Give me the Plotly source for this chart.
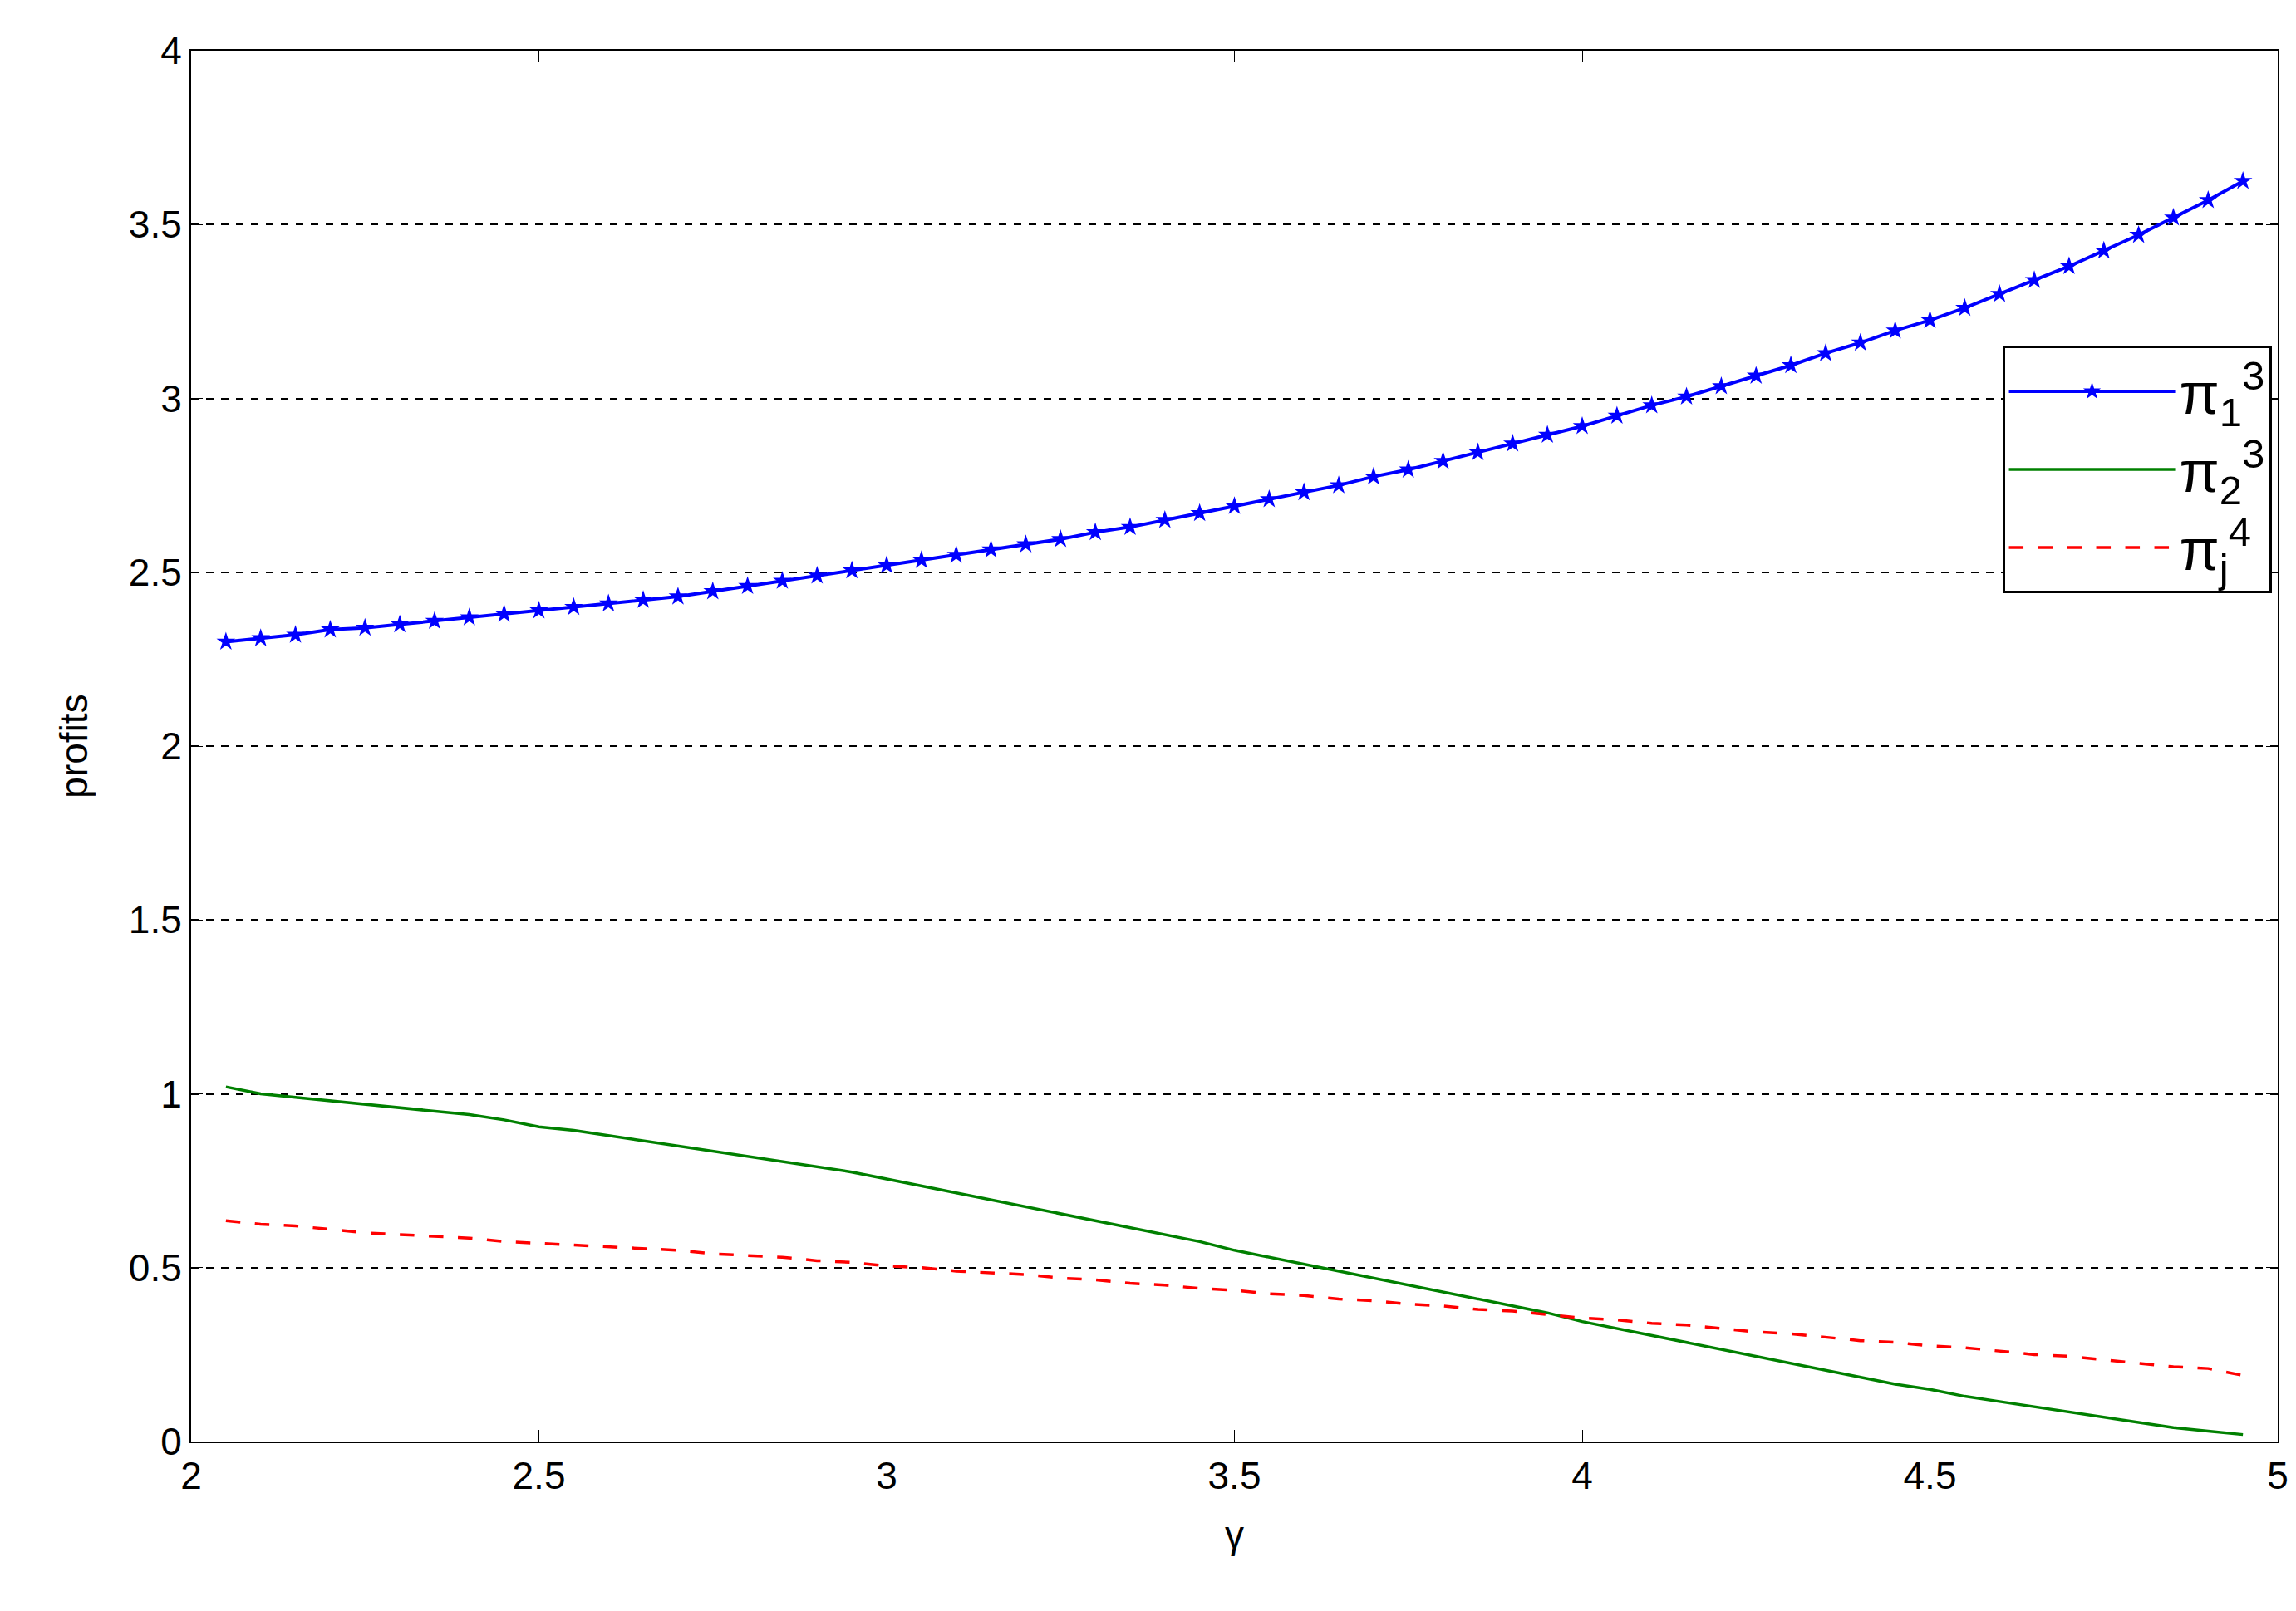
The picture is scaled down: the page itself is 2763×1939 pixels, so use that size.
import plotly.graph_objects as go

gamma = [round(2.05 + 0.05*i, 2) for i in range(59)]
pi13 = [2.30,2.31,2.32,2.335,2.34,2.35,2.36,2.37,2.38,2.39,2.40,2.41,2.42,2.43,2.445,2.46,2.475,2.49,2.505,2.52,
        2.535,2.55,2.565,2.58,2.595,2.615,2.63,2.65,2.67,2.69,2.71,2.73,2.75,2.775,2.795,2.82,2.845,2.87,2.895,2.92,
        2.95,2.98,3.005,3.035,3.065,3.095,3.13,3.16,3.195,3.225,3.26,3.30,3.34,3.38,3.425,3.47,3.52,3.57,3.625]
pi23 = [1.02,1.00,0.99,0.98,0.97,0.96,0.95,0.94,0.925,0.905,0.895,0.88,0.865,0.85,0.835,0.82,0.805,0.79,0.775,0.755,
        0.735,0.715,0.695,0.675,0.655,0.635,0.615,0.595,0.575,0.55,0.53,0.51,0.49,0.47,0.45,0.43,0.41,0.39,0.37,0.345,
        0.325,0.305,0.285,0.265,0.245,0.225,0.205,0.185,0.165,0.15,0.13,0.115,0.10,0.085,0.07,0.055,0.04,0.03,0.02]
pij4 = [0.635,0.625,0.62,0.61,0.60,0.595,0.59,0.585,0.575,0.57,0.565,0.56,0.555,0.55,0.54,0.535,0.53,0.52,0.515,0.505,
        0.50,0.49,0.485,0.48,0.47,0.465,0.455,0.45,0.44,0.435,0.425,0.42,0.41,0.405,0.395,0.39,0.38,0.375,0.365,0.355,
        0.35,0.34,0.335,0.325,0.315,0.31,0.30,0.29,0.285,0.275,0.27,0.26,0.25,0.245,0.235,0.225,0.215,0.21,0.19]

fig = go.Figure()
fig.add_trace(go.Scatter(x=gamma, y=pi13, mode="lines+markers", name="π<sub>1</sub><sup>3</sup>",
                         line=dict(color="#0000ff", width=4), marker=dict(symbol="star", size=17, color="#0000ff")))
fig.add_trace(go.Scatter(x=gamma, y=pi23, mode="lines", name="π<sub>2</sub><sup>3</sup>",
                         line=dict(color="#008000", width=3.5)))
fig.add_trace(go.Scatter(x=gamma, y=pij4, mode="lines", name="π<sub>j</sub><sup>4</sup>",
                         line=dict(color="#ff0000", width=3.5, dash="longdash")))

axis = dict(showline=True, linecolor="black", linewidth=2, mirror="ticks", ticks="inside", ticklen=14,
            tickcolor="black", zeroline=False, tickfont=dict(size=46, color="black"))
fig.update_layout(
    width=2763, height=1939, paper_bgcolor="white", plot_bgcolor="white",
    font=dict(family="Liberation Sans, Arial", color="black"),
    margin=dict(l=222, r=30, t=53, b=212),
    xaxis=dict(range=[2, 5], dtick=0.5, showgrid=False, title=dict(text="γ", font=dict(size=46), standoff=30), **axis),
    yaxis=dict(range=[0, 4], dtick=0.5, showgrid=True, gridcolor="black", griddash="dash", gridwidth=2,
               title=dict(text="profits", font=dict(size=46), standoff=35), **axis),
    legend=dict(x=0.868, y=0.788, xanchor="left", yanchor="top", bgcolor="white", bordercolor="black",
                borderwidth=3, font=dict(size=70), itemwidth=200),
)
fig.write_html("out.html")
